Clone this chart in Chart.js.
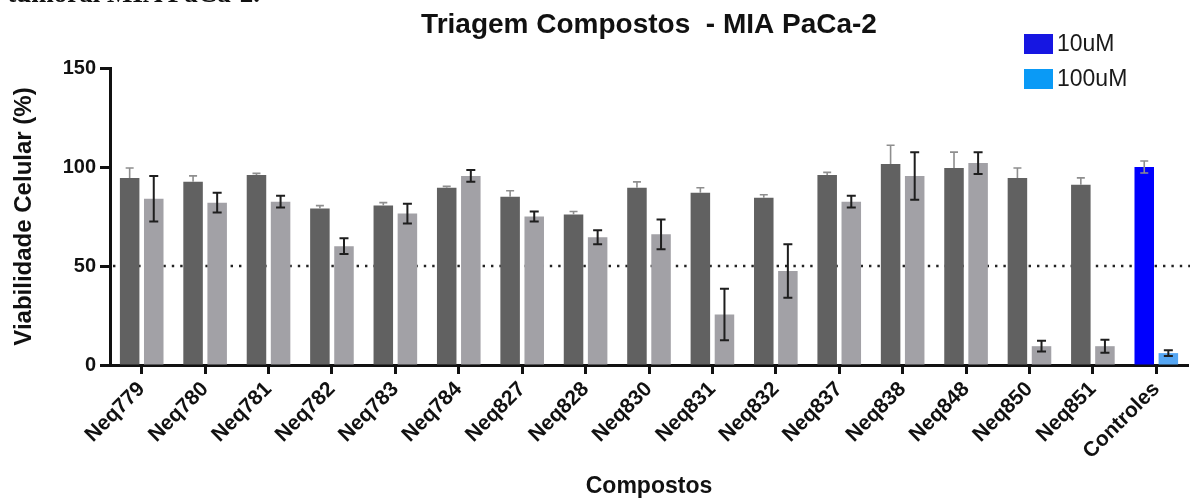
<!DOCTYPE html>
<html lang="pt">
<head>
<meta charset="utf-8">
<title>Triagem Compostos - MIA PaCa-2</title>
<script src="https://cdn.jsdelivr.net/npm/chart.js@4.4.1/dist/chart.umd.min.js"></script>
<style>
  html, body { margin: 0; padding: 0; background: #ffffff; }
  #wrap { position: relative; width: 1190px; height: 500px; overflow: hidden; }
  #prev-line { position: absolute; left: 0; top: 0; width: 260px; height: 4px; overflow: hidden; }
  #prev-line span {
    position: absolute; right: 0; top: -20px; white-space: nowrap;
    font: bold 27px "Liberation Serif", "Times New Roman", serif; line-height: 27px; color: #111;
  }
  canvas { position: absolute; left: 0; top: 0; }
</style>
</head>
<body>
<div id="wrap">
  <canvas id="chart" width="1190" height="500"></canvas>
  <div id="prev-line"><span>tumoral MIA PaCa-2.</span></div>
</div>
<script>
// Compounds screened on MIA PaCa-2 cells, viability in % of control
const categories = ['Neq779', 'Neq780', 'Neq781', 'Neq782', 'Neq783', 'Neq784', 'Neq827', 'Neq828',
  'Neq830', 'Neq831', 'Neq832', 'Neq837', 'Neq838', 'Neq848', 'Neq850', 'Neq851', 'Controles'];

const mean10uM = [94.5, 92.5, 96, 79, 80.5, 89.5, 85, 76, 89.5, 87, 84.5, 96, 101.5, 99.5, 94.5, 91, 100];
const sd10uM   = [5, 3, 0.8, 1.5, 1.5, 0.7, 3, 1.5, 3, 2.5, 1.5, 1.3, 9.5, 8, 5, 3.5, 3];

const mean100uM = [84, 82, 82.5, 60, 76.5, 95.5, 75, 64.5, 66, 25.5, 47.5, 82.5, 95.5, 102, 9.5, 9.5, 6];
const sd100uM   = [11.5, 5, 3, 4, 5, 3, 2.5, 3.5, 7.5, 13, 13.5, 3, 12, 5.5, 2.7, 3.3, 1.5];

const seriesNames = ['10uM', '100uM'];
const yTicks = [0, 50, 100, 150];
const threshold = 50;
const chartTitle = 'Triagem Compostos  - MIA PaCa-2';

// colours
const DARK_GREY = '#616161';
const LIGHT_GREY = '#a2a1a6';
const BLUE = '#0000fe';
const LIGHT_BLUE = '#55a6f3';
const LEGEND_COLORS = ['#1616e2', '#0a9af6'];
const INK = '#111111';
const FONT = '"Liberation Sans", Arial, Helvetica, sans-serif';

const isControl = (name) => name === 'Controles';
const colors10 = categories.map(c => isControl(c) ? BLUE : DARK_GREY);
const colors100 = categories.map(c => isControl(c) ? LIGHT_BLUE : LIGHT_GREY);

Chart.defaults.font.family = FONT;
Chart.defaults.color = INK;

// title centred over the plotting area
const plotTitle = {
  id: 'plotTitle',
  afterDraw(chart) {
    const { ctx, chartArea } = chart;
    ctx.save();
    ctx.font = 'bold 28px ' + FONT;
    ctx.fillStyle = INK;
    ctx.textAlign = 'center';
    ctx.textBaseline = 'middle';
    ctx.fillText(chartTitle, (chartArea.left + chartArea.right) / 2, 25);
    ctx.restore();
  }
};

// dotted 50 % line behind the bars
const thresholdLine = {
  id: 'thresholdLine',
  beforeDatasetsDraw(chart) {
    const { ctx, chartArea, scales: { y } } = chart;
    const py = y.getPixelForValue(threshold);
    ctx.save();
    ctx.strokeStyle = '#222222';
    ctx.lineWidth = 2.4;
    ctx.setLineDash([2.4, 6]);
    ctx.beginPath();
    ctx.moveTo(chartArea.left + 3, py);
    ctx.lineTo(chart.width, py);
    ctx.stroke();
    ctx.restore();
  }
};

// SD whiskers on every bar
const errorBars = {
  id: 'errorBars',
  afterDatasetsDraw(chart) {
    const { ctx, scales: { y } } = chart;
    chart.data.datasets.forEach((ds, di) => {
      const meta = chart.getDatasetMeta(di);
      const st = ds.errStyle;
      meta.data.forEach((bar, i) => {
        const m = ds.data[i];
        const s = ds.sd[i];
        const x = bar.x;
        const yMid = y.getPixelForValue(m);
        const yHi = y.getPixelForValue(m + s);
        const yLo = y.getPixelForValue(m - s);
        const showLower = st.lower(i);
        ctx.save();
        ctx.strokeStyle = st.color;
        ctx.lineWidth = st.width;
        ctx.beginPath();
        ctx.moveTo(x, showLower ? yLo : yMid);
        ctx.lineTo(x, yHi);
        ctx.moveTo(x - st.cap / 2, yHi);
        ctx.lineTo(x + st.cap / 2, yHi);
        if (showLower) {
          ctx.moveTo(x - st.cap / 2, yLo);
          ctx.lineTo(x + st.cap / 2, yLo);
        }
        ctx.stroke();
        ctx.restore();
      });
    });
  }
};

// stacked legend in the upper right corner
const cornerLegend = {
  id: 'cornerLegend',
  afterDraw(chart) {
    const { ctx } = chart;
    const x0 = 1024, y0 = 34, boxW = 29, boxH = 20, step = 35;
    ctx.save();
    ctx.font = '23px ' + FONT;
    ctx.textBaseline = 'middle';
    ctx.textAlign = 'left';
    chart.data.datasets.forEach((ds, i) => {
      const top = y0 + i * step;
      ctx.fillStyle = LEGEND_COLORS[i];
      ctx.fillRect(x0, top, boxW, boxH);
      ctx.fillStyle = '#1a1a1a';
      ctx.fillText(ds.label, x0 + boxW + 4, top + boxH / 2 + 1);
    });
    ctx.restore();
  }
};

new Chart(document.getElementById('chart'), {
  type: 'bar',
  data: {
    labels: categories,
    datasets: [
      {
        label: seriesNames[0],
        data: mean10uM,
        sd: sd10uM,
        backgroundColor: colors10,
        errStyle: { color: '#8e8e8e', width: 1.6, cap: 8, lower: (i) => colors10[i] !== DARK_GREY }
      },
      {
        label: seriesNames[1],
        data: mean100uM,
        sd: sd100uM,
        backgroundColor: colors100,
        errStyle: { color: '#1e1e1e', width: 2, cap: 9, lower: () => true }
      }
    ]
  },
  options: {
    responsive: false,
    devicePixelRatio: 1,
    animation: false,
    layout: { padding: { left: 0, right: 2, top: 68, bottom: 0 } },
    categoryPercentage: 0.76,
    barPercentage: 0.81,
    plugins: {
      legend: { display: false },
      tooltip: { enabled: false },
      title: { display: false }
    },
    scales: {
      x: {
        offset: true,
        border: { display: true, width: 3, color: INK },
        grid: { display: true, drawOnChartArea: false, drawTicks: true, tickLength: 9, tickWidth: 3, tickColor: INK, offset: false },
        ticks: {
          autoSkip: false, maxRotation: 45, minRotation: 45, padding: 3,
          color: INK, font: { size: 21, weight: 'bold' }
        },
        title: {
          display: true, text: 'Compostos', color: INK,
          font: { size: 23, weight: 'bold' }, padding: { top: 0, bottom: 0 }
        },
        afterFit(scale) { scale.height = 135; }
      },
      y: {
        min: 0, max: 150,
        border: { display: true, width: 3, color: INK },
        grid: { display: true, drawOnChartArea: false, drawTicks: true, tickLength: 10, tickWidth: 3, tickColor: INK },
        afterBuildTicks(scale) { scale.ticks = yTicks.map(v => ({ value: v })); },
        ticks: { padding: 4, color: INK, font: { size: 20, weight: 'bold' } },
        title: {
          display: true, text: 'Viabilidade Celular (%)', color: INK,
          font: { size: 24, weight: 'bold' }, padding: { top: 10, bottom: 0 }
        },
        afterFit(scale) { scale.width = 110; }
      }
    }
  },
  plugins: [thresholdLine, errorBars, cornerLegend, plotTitle]
});
</script>
</body>
</html>
